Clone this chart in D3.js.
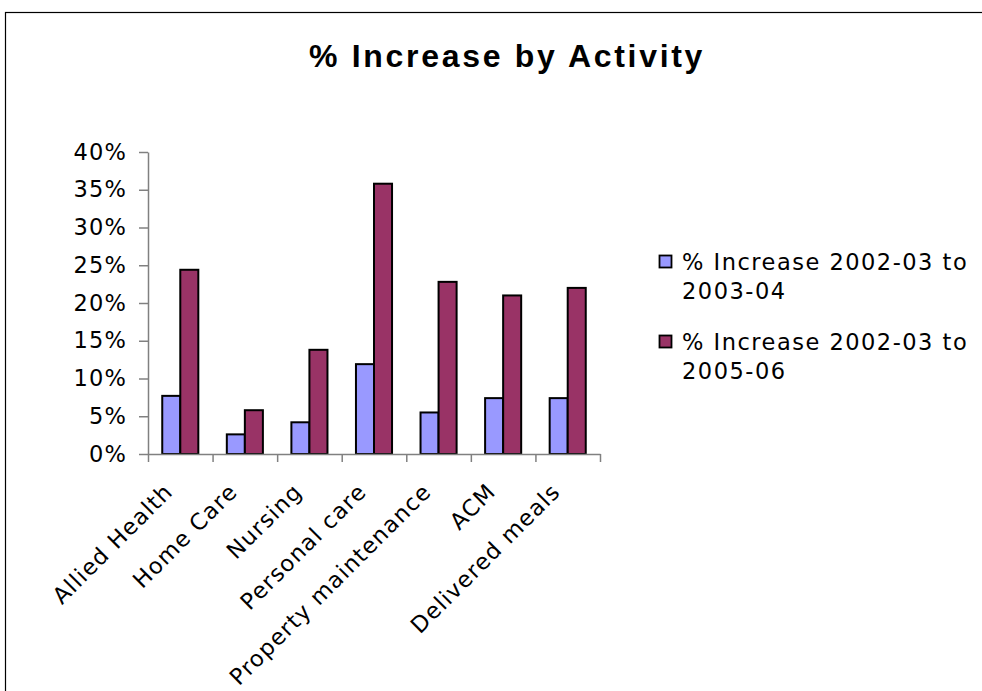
<!DOCTYPE html>
<html>
<head>
<meta charset="utf-8">
<script src="https://cdn.jsdelivr.net/npm/d3@7/dist/d3.min.js"></script>
<style>
  html, body { margin: 0; padding: 0; background: #fff; }
  svg { display: block; }
  .lbl { font-family: "DejaVu Sans", Verdana, sans-serif; font-size: 22.5px; letter-spacing: 1.5px; fill: #000; }
</style>
</head>
<body>
<script>
// Activity categories and the two increase series (fractions)
const categories = ["Allied Health", "Home Care", "Nursing", "Personal care",
                    "Property maintenance", "ACM", "Delivered meals"];
const inc2003to04 = [0.077, 0.026, 0.042, 0.119, 0.055, 0.074, 0.074];
const inc2005to06 = [0.244, 0.058, 0.138, 0.358, 0.228, 0.210, 0.220];
const seriesNames = [["% Increase 2002-03 to", "2003-04"],
                     ["% Increase 2002-03 to", "2005-06"]];
const seriesColors = ["#9999FF", "#993366"];
const yTicks = [0, 0.05, 0.10, 0.15, 0.20, 0.25, 0.30, 0.35, 0.40];
const chartTitle = "% Increase by Activity";

const W = 982, H = 691;
const svg = d3.select("body").append("svg").attr("width", W).attr("height", H);

// outer chart frame (extends past the visible window on right/bottom)
svg.append("rect")
  .attr("x", 5.5).attr("y", 12.5).attr("width", 1200).attr("height", 900)
  .attr("fill", "#fff").attr("stroke", "#000").attr("stroke-width", 1.2);

svg.append("text")
  .attr("x", 507).attr("y", 67)
  .attr("text-anchor", "middle")
  .style("font-family", "'Liberation Sans', Arial, sans-serif")
  .style("font-weight", "bold").style("font-size", "32px").style("letter-spacing", "2.7px")
  .text(chartTitle);

const plot = { left: 148, right: 600, top: 152, bottom: 454 };

const x = d3.scaleBand().domain(categories).range([plot.left, plot.right]).padding(0);
const xs = d3.scaleBand().domain([0, 1]).range([0, x.bandwidth()]).paddingInner(0).paddingOuter(0.79);
const y = d3.scaleLinear().domain([0, 0.40]).range([plot.bottom, plot.top]);
const xEdges = d3.scaleLinear().domain([0, categories.length]).range([plot.left, plot.right]);

// bars
const series = [inc2003to04, inc2005to06];
series.forEach((vals, si) => {
  svg.append("g").selectAll("rect").data(vals).join("rect")
    .attr("x", (d, i) => x(categories[i]) + xs(si))
    .attr("y", d => y(d))
    .attr("width", xs.bandwidth())
    .attr("height", d => y(0) - y(d))
    .attr("fill", seriesColors[si])
    .attr("stroke", "#000").attr("stroke-width", 2);
});

// y axis
const yAxis = svg.append("g").attr("transform", `translate(${plot.left},0)`)
  .call(d3.axisLeft(y).tickValues(yTicks).tickFormat(d3.format(".0%")).tickSize(9).tickSizeOuter(0).tickPadding(12));
yAxis.select(".domain").attr("stroke", "#808080").attr("stroke-width", 1.5);
yAxis.selectAll(".tick line").attr("stroke", "#808080").attr("stroke-width", 1.5);
yAxis.selectAll(".tick text").attr("class", "lbl").style("letter-spacing", "1.2px")
  .attr("font-family", null).attr("font-size", null);

// x axis: tick marks sit on category boundaries
const xAxis = svg.append("g").attr("transform", `translate(0,${plot.bottom})`)
  .call(d3.axisBottom(xEdges).tickValues(d3.range(categories.length + 1)).tickFormat("").tickSize(8).tickSizeOuter(0));
xAxis.select(".domain").attr("stroke", "#808080").attr("stroke-width", 1.5);
xAxis.selectAll(".tick line").attr("stroke", "#808080").attr("stroke-width", 1.5);

// rotated category labels
svg.append("g").selectAll("text").data(categories).join("text")
  .attr("class", "lbl")
  .style("letter-spacing", "1.2px")
  .attr("text-anchor", "end")
  .attr("transform", d => `translate(${x(d) + x.bandwidth() / 2 - 6},${plot.bottom + 39}) rotate(-45)`)
  .text(d => d);

// legend
const legend = svg.append("g");
seriesNames.forEach((lines, i) => {
  const oy = i * 80;
  legend.append("rect")
    .attr("x", 659.5).attr("y", 255.5 + oy).attr("width", 12).attr("height", 12)
    .attr("fill", seriesColors[i]).attr("stroke", "#000").attr("stroke-width", 1.8);
  lines.forEach((ln, j) => {
    legend.append("text").attr("class", "lbl")
      .attr("x", 682).attr("y", 270 + oy + j * 28.5)
      .text(ln);
  });
});
</script>
</body>
</html>
